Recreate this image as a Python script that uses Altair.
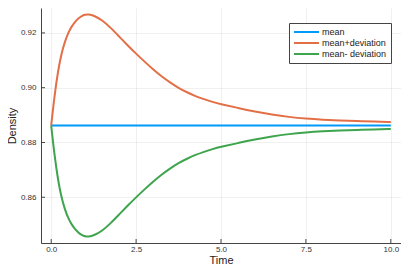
import altair as alt
import pandas as pd

t = [0, 0.1, 0.2, 0.3, 0.4, 0.5, 0.6, 0.7, 0.8, 0.9, 1.0, 1.1, 1.25, 1.5, 1.75,
     2.0, 2.25, 2.5, 2.75, 3.0, 3.25, 3.5, 3.75, 4.0, 4.25, 4.5, 4.75, 5.0,
     5.5, 6.0, 6.5, 7.0, 7.5, 8.0, 8.5, 9.0, 9.5, 10.0]
mean = [0.8862] * len(t)
upper = [0.8862, 0.8974, 0.9060, 0.9124, 0.9167, 0.9200, 0.9223, 0.9240, 0.9253,
         0.9262, 0.9267, 0.9268, 0.9264, 0.9247, 0.9219, 0.9187, 0.9155, 0.9124,
         0.9095, 0.9067, 0.9041, 0.9019, 0.8999, 0.8983, 0.8969, 0.8958, 0.8948,
         0.8940, 0.8926, 0.8913, 0.8902, 0.8893, 0.8887, 0.8883, 0.8880, 0.8878,
         0.8876, 0.8875]
lower = [0.8862, 0.8750, 0.8664, 0.8600, 0.8557, 0.8524, 0.8501, 0.8484, 0.8471,
         0.8462, 0.8457, 0.8456, 0.8460, 0.8477, 0.8505, 0.8537, 0.8569, 0.8600,
         0.8629, 0.8657, 0.8683, 0.8705, 0.8725, 0.8741, 0.8755, 0.8766, 0.8776,
         0.8784, 0.8798, 0.8811, 0.8822, 0.8831, 0.8837, 0.8841, 0.8844, 0.8846,
         0.8848, 0.8849]

series = ["mean", "mean+deviation", "mean- deviation"]
colors = ["#009AFA", "#E36F47", "#3EA44E"]
x_ticks = [0, 2.5, 5, 7.5, 10]
y_ticks = [0.86, 0.88, 0.90, 0.92]

rows = []
for name, vals in zip(series, [mean, upper, lower]):
    for ti, v in zip(t, vals):
        rows.append({"Time": ti, "Density": v, "series": name})
df = pd.DataFrame(rows)
xt_df = pd.DataFrame({"Time": x_ticks})
yt_df = pd.DataFrame({"Density": y_ticks})

FONT = "Liberation Sans"

x_scale = alt.Scale(domain=[-0.3, 10.3], nice=False, zero=False)
y_scale = alt.Scale(domain=[0.8433, 0.9291], nice=False, zero=False)
x_enc = alt.X("Time:Q", scale=x_scale,
              axis=alt.Axis(values=x_ticks, format=".1f", title="Time",
                            titleBaseline="alphabetic", titleY=20))
y_enc = alt.Y("Density:Q", scale=y_scale,
              axis=alt.Axis(values=y_ticks, format=".2f", title="Density"))

lines = alt.Chart(df).mark_line(strokeWidth=2, interpolate="basis", clip=True).encode(
    x=x_enc,
    y=y_enc,
    color=alt.Color("series:N",
                    scale=alt.Scale(domain=series, range=colors),
                    sort=series,
                    legend=alt.Legend(title=None, orient="none", legendX=248, legendY=15,
                                      symbolType="M-1,0H5.25", symbolSize=64,
                                      symbolStrokeWidth=2, labelFontSize=9,
                                      labelFont=FONT, labelColor="#222",
                                      strokeColor="#444", fillColor="white",
                                      padding=4, rowPadding=1, labelOffset=19)),
    order=alt.Order("Time:Q"),
)

xticks_layer = alt.Chart(xt_df).mark_rule(color="#444", strokeWidth=1).encode(
    x=x_enc, y=alt.value(235), y2=alt.value(231))
yticks_layer = alt.Chart(yt_df).mark_rule(color="#444", strokeWidth=1).encode(
    y=y_enc, x=alt.value(0), x2=alt.value(4))

chart = alt.layer(lines, xticks_layer, yticks_layer).properties(
    width=360, height=235,
    autosize=alt.AutoSizeParams(type="none"),
    padding={"left": 33, "top": 0, "right": 0, "bottom": 22},
).configure_view(stroke=None).configure_axis(
    labelFont=FONT, titleFont=FONT, labelFontSize=8, titleFontSize=11,
    titleFontWeight="normal", labelColor="#333", titleColor="#222",
    domainColor="#444", domainWidth=1, ticks=False,
    gridColor="#000", gridOpacity=0.08, gridWidth=0.8,
).configure_axisY(labelPadding=5, titlePadding=3).configure_axisX(labelPadding=2.5)

chart.save("out.html", embed_options={"renderer": "svg", "actions": False})
